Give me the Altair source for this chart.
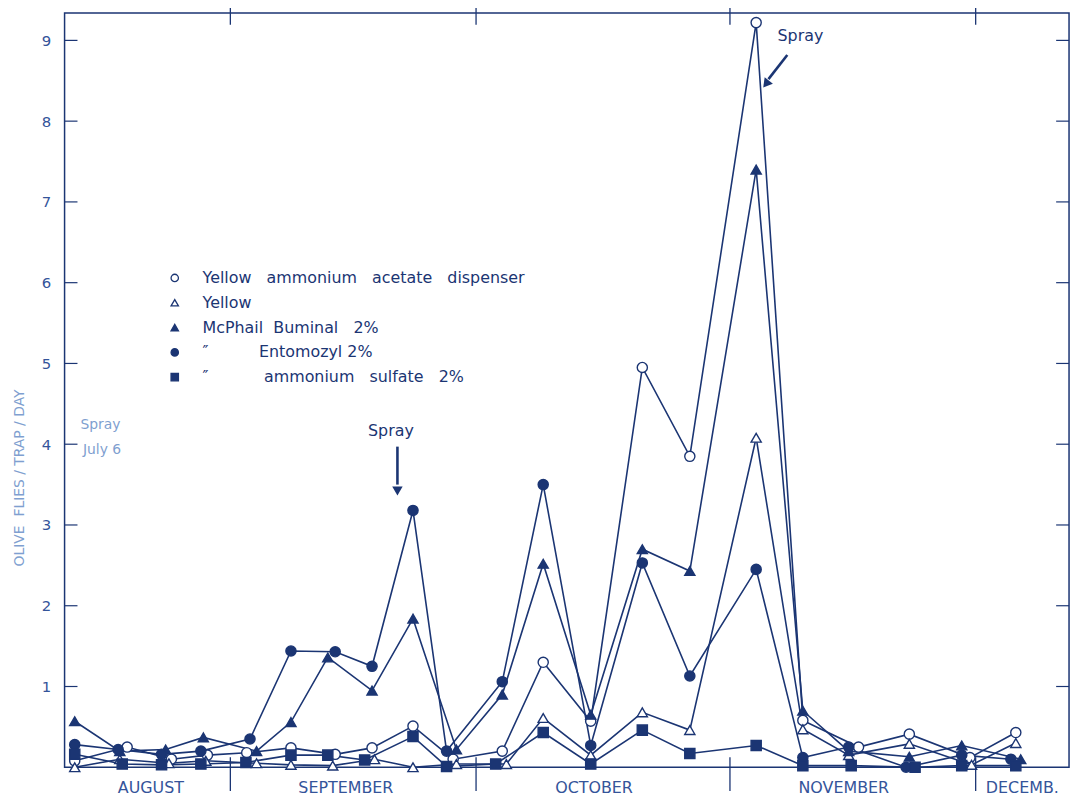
import altair as alt
import pandas as pd

NAVY = "#1b3573"
LABEL = "#34549a"
LIGHT = "#7f9fd0"
FONT = "DejaVu Sans"
SP = "\u00a0"
FS = "\u2007"

# ---- data (x = days counted from 1 August; y = olive flies / trap / day) ----
series_labels = [
    "Yellow" + SP * 3 + "ammonium" + SP * 3 + "acetate" + SP * 3 + "dispenser",
    "Yellow",
    "McPhail" + SP * 2 + "Buminal" + SP * 3 + "2%",
    FS * 3 + "\u2033" + SP * 10 + "Entomozyl" + SP + "2%",
    FS * 3 + "\u2033" + SP * 11 + "ammonium" + SP * 3 + "sulfate" + SP * 3 + "2%",
]
series_shapes = ["circle", "triangle-up", "triangle-up", "circle", "square"]
series_fills = ["white", "white", NAVY, NAVY, NAVY]

acetate_day = [12.0, 18.4, 23.8, 28.2, 33.0, 38.4, 43.8, 48.3, 53.3, 58.2, 64.2, 69.2, 75.0, 81.3, 87.1, 95.2, 100.9, 107.7, 113.9, 121.3, 126.9]
acetate_val = [0.08, 0.25, 0.10, 0.15, 0.18, 0.24, 0.16, 0.24, 0.51, 0.10, 0.20, 1.30, 0.57, 4.95, 3.85, 9.22, 0.58, 0.25, 0.41, 0.12, 0.43]

yellow_day = [12.0, 17.5, 23.5, 28.0, 34.2, 38.4, 43.5, 48.6, 53.3, 58.6, 64.7, 69.2, 75.0, 81.3, 87.1, 95.2, 100.9, 106.5, 113.9, 121.5, 126.9]
yellow_val = [0.00, 0.10, 0.05, 0.08, 0.05, 0.03, 0.02, 0.10, 0.00, 0.04, 0.04, 0.61, 0.15, 0.68, 0.46, 4.08, 0.47, 0.15, 0.29, 0.03, 0.30]

buminal_day = [12.0, 17.5, 23.1, 27.7, 34.2, 38.4, 42.9, 48.3, 53.3, 58.6, 64.2, 69.2, 75.0, 81.3, 87.1, 95.2, 100.9, 106.5, 113.9, 120.3, 127.5]
buminal_val = [0.57, 0.20, 0.22, 0.37, 0.20, 0.56, 1.36, 0.95, 1.84, 0.22, 0.90, 2.52, 0.65, 2.70, 2.43, 7.40, 0.70, 0.20, 0.13, 0.27, 0.10]

entomozyl_day = [12.0, 17.3, 22.6, 27.4, 33.4, 38.4, 43.8, 48.3, 53.3, 57.4, 64.2, 69.2, 75.0, 81.3, 87.1, 95.2, 100.9, 106.5, 113.5, 120.3, 126.3]
entomozyl_val = [0.28, 0.22, 0.16, 0.20, 0.35, 1.44, 1.43, 1.25, 3.18, 0.20, 1.06, 3.50, 0.27, 2.53, 1.13, 2.45, 0.12, 0.25, 0.00, 0.15, 0.10]

sulfate_day = [12.0, 17.8, 22.6, 27.4, 32.9, 38.4, 42.9, 47.4, 53.3, 57.4, 63.4, 69.2, 75.0, 81.3, 87.1, 95.2, 100.9, 106.8, 114.6, 120.3, 126.9]
sulfate_val = [0.16, 0.04, 0.03, 0.04, 0.06, 0.15, 0.15, 0.09, 0.38, 0.01, 0.04, 0.43, 0.04, 0.46, 0.17, 0.27, 0.02, 0.02, 0.00, 0.02, 0.02]

month_names = ["AUGUST", "SEPTEMBER", "OCTOBER", "NOVEMBER", "DECEMB."]
month_mid = [21.3, 45.1, 75.4, 105.9, 127.7]
month_bounds = [31, 61, 92, 122]
y_ticks = [1, 2, 3, 4, 5, 6, 7, 8, 9]

X_DOMAIN = [10.76, 133.4]
Y_DOMAIN = [0, 9.34]
W, H = 1012, 760

rows = []
for lab, days, vals in zip(
    series_labels,
    [acetate_day, yellow_day, buminal_day, entomozyl_day, sulfate_day],
    [acetate_val, yellow_val, buminal_val, entomozyl_val, sulfate_val],
):
    for d, v in zip(days, vals):
        rows.append({"series": lab, "day": d, "value": v})
df = pd.DataFrame(rows)

xs = alt.Scale(domain=X_DOMAIN, nice=False, zero=False)
ys = alt.Scale(domain=Y_DOMAIN, nice=False, zero=False)
X = alt.X("day:Q", scale=xs, axis=None)
Y = alt.Y(
    "value:Q",
    scale=ys,
    axis=alt.Axis(
        values=y_ticks, format="d", ticks=False, domain=False, grid=False,
        labelFontSize=15, labelColor=LABEL, labelPadding=14, labelFont=FONT,
        title="OLIVE" + SP * 2 + "FLIES / TRAP / DAY", titleColor=LIGHT, titleFontSize=14,
        titleFontWeight="normal", titleFont=FONT, titleAngle=270,
        titleX=-38, titleY=468,
    ),
)

leg = alt.Legend(
    orient="none", legendX=103, legendY=259, title=None,
    labelFontSize=16, labelColor=NAVY, labelFont=FONT, labelLimit=900,
    symbolSize=55, symbolStrokeWidth=1.3,
    rowPadding=9, labelOffset=20,
)

base = alt.Chart(df)
lines = base.mark_line(color=NAVY, strokeWidth=1.6).encode(
    x=X, y=Y, detail="series:N", order="day:Q"
)
points = base.mark_point(filled=True, strokeWidth=1.4, opacity=1, size=105).encode(
    x=X, y=Y,
    shape=alt.Shape("series:N", scale=alt.Scale(domain=series_labels, range=series_shapes), legend=leg),
    fill=alt.Fill("series:N", scale=alt.Scale(domain=series_labels, range=series_fills), legend=leg),
    stroke=alt.Stroke("series:N", scale=alt.Scale(domain=series_labels, range=[NAVY] * 5), legend=leg),
)

# inward ticks on left and right frame
tick_df = pd.DataFrame({"t": y_ticks})
ytick_l = alt.Chart(tick_df).mark_rule(color=NAVY, strokeWidth=1.2).encode(
    y=alt.Y("t:Q", scale=ys), x=alt.value(0), x2=alt.value(13))
ytick_r = alt.Chart(tick_df).mark_rule(color=NAVY, strokeWidth=1.2).encode(
    y=alt.Y("t:Q", scale=ys), x=alt.value(W - 13), x2=alt.value(W))

# month boundary ticks
mb_df = pd.DataFrame({"b": month_bounds})
mtick_b = alt.Chart(mb_df).mark_rule(color=NAVY, strokeWidth=1.3).encode(
    x=alt.X("b:Q", scale=xs), y=alt.value(H - 10), y2=alt.value(H + 24))
mtick_t = alt.Chart(mb_df).mark_rule(color=NAVY, strokeWidth=1.3).encode(
    x=alt.X("b:Q", scale=xs), y=alt.value(-7), y2=alt.value(12))

mn_df = pd.DataFrame({"m": month_names, "d": month_mid})
months = alt.Chart(mn_df).mark_text(
    color=LABEL, fontSize=16, font=FONT, baseline="middle", align="center"
).encode(x=alt.X("d:Q", scale=xs), y=alt.value(H + 21), text="m:N")

# annotations
ann_df = pd.DataFrame({
    "txt": ["Spray", "Spray"],
    "d": [50.6, 100.6],
    "v": [4.16, 9.06],
})
ann_text = alt.Chart(ann_df).mark_text(
    color=NAVY, fontSize=16, font=FONT, align="center", baseline="middle"
).encode(x=alt.X("d:Q", scale=xs), y=alt.Y("v:Q", scale=ys), text="txt:N")

july_df = pd.DataFrame({"txt": ["Spray", "July 6"], "d": [12.7, 13.0], "v": [4.24, 3.93]})
july_text = alt.Chart(july_df).mark_text(
    color=LIGHT, fontSize=14, font=FONT, align="left", baseline="middle"
).encode(x=alt.X("d:Q", scale=xs), y=alt.Y("v:Q", scale=ys), text="txt:N")

arrow_df = pd.DataFrame({
    "d": [51.4, 99.0], "v": [3.97, 8.82],
    "d2": [51.4, 96.7], "v2": [3.50, 8.52],
})
arrow_shaft = alt.Chart(arrow_df).mark_rule(color=NAVY, strokeWidth=2.6).encode(
    x=alt.X("d:Q", scale=xs), y=alt.Y("v:Q", scale=ys),
    x2="d2:Q", y2="v2:Q")
head_df = pd.DataFrame({"d": [51.4, 96.4], "v": [3.42, 8.46], "ang": [180, 218]})
arrow_head = alt.Chart(head_df).mark_point(
    shape="triangle-up", filled=True, color=NAVY, opacity=1, size=110
).encode(x=alt.X("d:Q", scale=xs), y=alt.Y("v:Q", scale=ys), angle=alt.Angle("ang:Q", scale=None))

chart = alt.layer(
    lines, points, ytick_l, ytick_r, mtick_b, mtick_t, months,
    ann_text, july_text, arrow_shaft, arrow_head,
).properties(
    width=W, height=H,
    autosize=alt.AutoSizeParams(type="none"),
    padding={"left": 57, "top": 2, "right": 5, "bottom": 28},
    background="white",
).configure(
    font=FONT,
    view=alt.ViewConfig(stroke=NAVY, strokeWidth=1.5),
)

chart.save("out.html", embed_options={"renderer": "svg", "actions": False})
